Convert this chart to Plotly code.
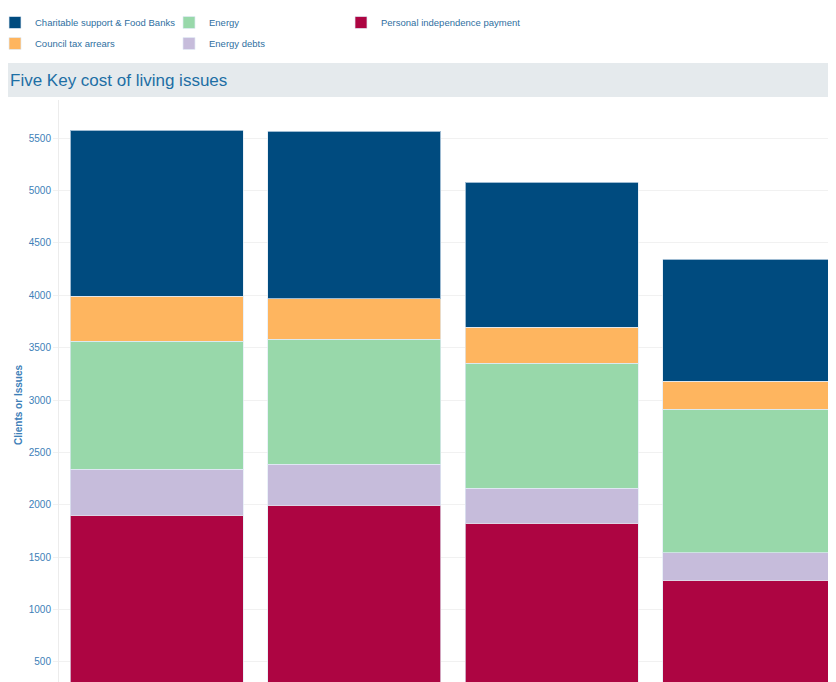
import plotly.graph_objects as go

# ---- data ----
categories = ["Q1", "Q2", "Q3", "Q4"]
pip_values = [1900, 1995, 1823, 1280]          # Personal independence payment
energy_debts = [439, 394, 334, 263]            # Energy debts
energy = [1221, 1190, 1193, 1368]              # Energy
council_tax = [432, 385, 344, 267]             # Council tax arrears
charitable = [1584, 1603, 1386, 1165]          # Charitable support & Food Banks

# (name, values, colour, legend, legend rank)
series = [
    ("Personal independence payment", pip_values, "#ad0542", "legend3", 5),
    ("Energy debts", energy_debts, "#c6bcdb", "legend2", 4),
    ("Energy", energy, "#98d8aa", "legend2", 3),
    ("Council tax arrears", council_tax, "#feb55f", "legend", 2),
    ("Charitable support & Food Banks", charitable, "#004b7f", "legend", 1),
]

# page has an 8px body margin, so the figure is sized to end at the window edge
W, H = 828, 674
ML, MT = 51, 92
PW, PH = W - ML, H - MT

FONT = "Liberation Sans, Arial, sans-serif"
TEXT_BLUE = "#2f6f9f"
TICK_BLUE = "#3d80b8"

fig = go.Figure()
for name, vals, color, lg, rank in series:
    fig.add_trace(go.Bar(
        x=categories, y=vals, name=name, legend=lg, legendgroup=name,
        legendrank=rank,
        marker=dict(color=color, line=dict(color="rgba(225,235,245,0.7)", width=1)),
    ))

legend_common = dict(
    orientation="v", xref="paper", yref="container", yanchor="top",
    xanchor="left", font=dict(family=FONT, size=9.5, color=TEXT_BLUE),
    bgcolor="rgba(0,0,0,0)", traceorder="grouped", tracegroupgap=2,
)


def px_x(fx):
    return (fx - ML) / PW


fig.update_layout(
    width=W, height=H,
    margin=dict(l=ML, r=0, t=MT, b=0, pad=0, autoexpand=False),
    barmode="stack", bargap=0.124,
    paper_bgcolor="white", plot_bgcolor="white",
    font=dict(family=FONT, color=TEXT_BLUE),
    title=dict(
        text="Five Key cost of living issues", xref="container", yref="container",
        x=2 / W, xanchor="left", y=1 - 72 / H, yanchor="middle",
        font=dict(family=FONT, size=17, color="#1d6fa5"),
    ),
    legend=dict(x=px_x(-13), y=1 + 4 / H, **legend_common),
    legend2=dict(x=px_x(161), y=1 + 4 / H, **legend_common),
    legend3=dict(x=px_x(333), y=1 + 4 / H, **legend_common),
    xaxis=dict(range=[-0.494, 3.44], showticklabels=False, showgrid=False,
               zeroline=False, showline=False, ticks=""),
    yaxis=dict(range=[309, 5863], tick0=0, dtick=500, showgrid=True,
               gridcolor="#f1f1f1", gridwidth=1, zeroline=False,
               showline=True, linecolor="#ececec", linewidth=1,
               ticks="outside", ticklen=5, tickcolor="#f1f1f1",
               tickfont=dict(family=FONT, size=10, color=TICK_BLUE)),
    shapes=[dict(type="rect", xref="paper", yref="paper",
                 x0=-ML / PW - 0.01, x1=1.0, y0=(H - 89) / PH, y1=(H - 55) / PH,
                 fillcolor="#e5eaed", line=dict(width=0), layer="below")],
    annotations=[dict(text="<b>Clients or Issues</b>", xref="paper", yref="paper",
                      x=(10 - ML) / PW, y=(H - 397) / PH, textangle=-90,
                      showarrow=False, xanchor="center", yanchor="middle",
                      font=dict(family=FONT, size=10, color=TICK_BLUE))],
)

fig.write_html("out.html")
